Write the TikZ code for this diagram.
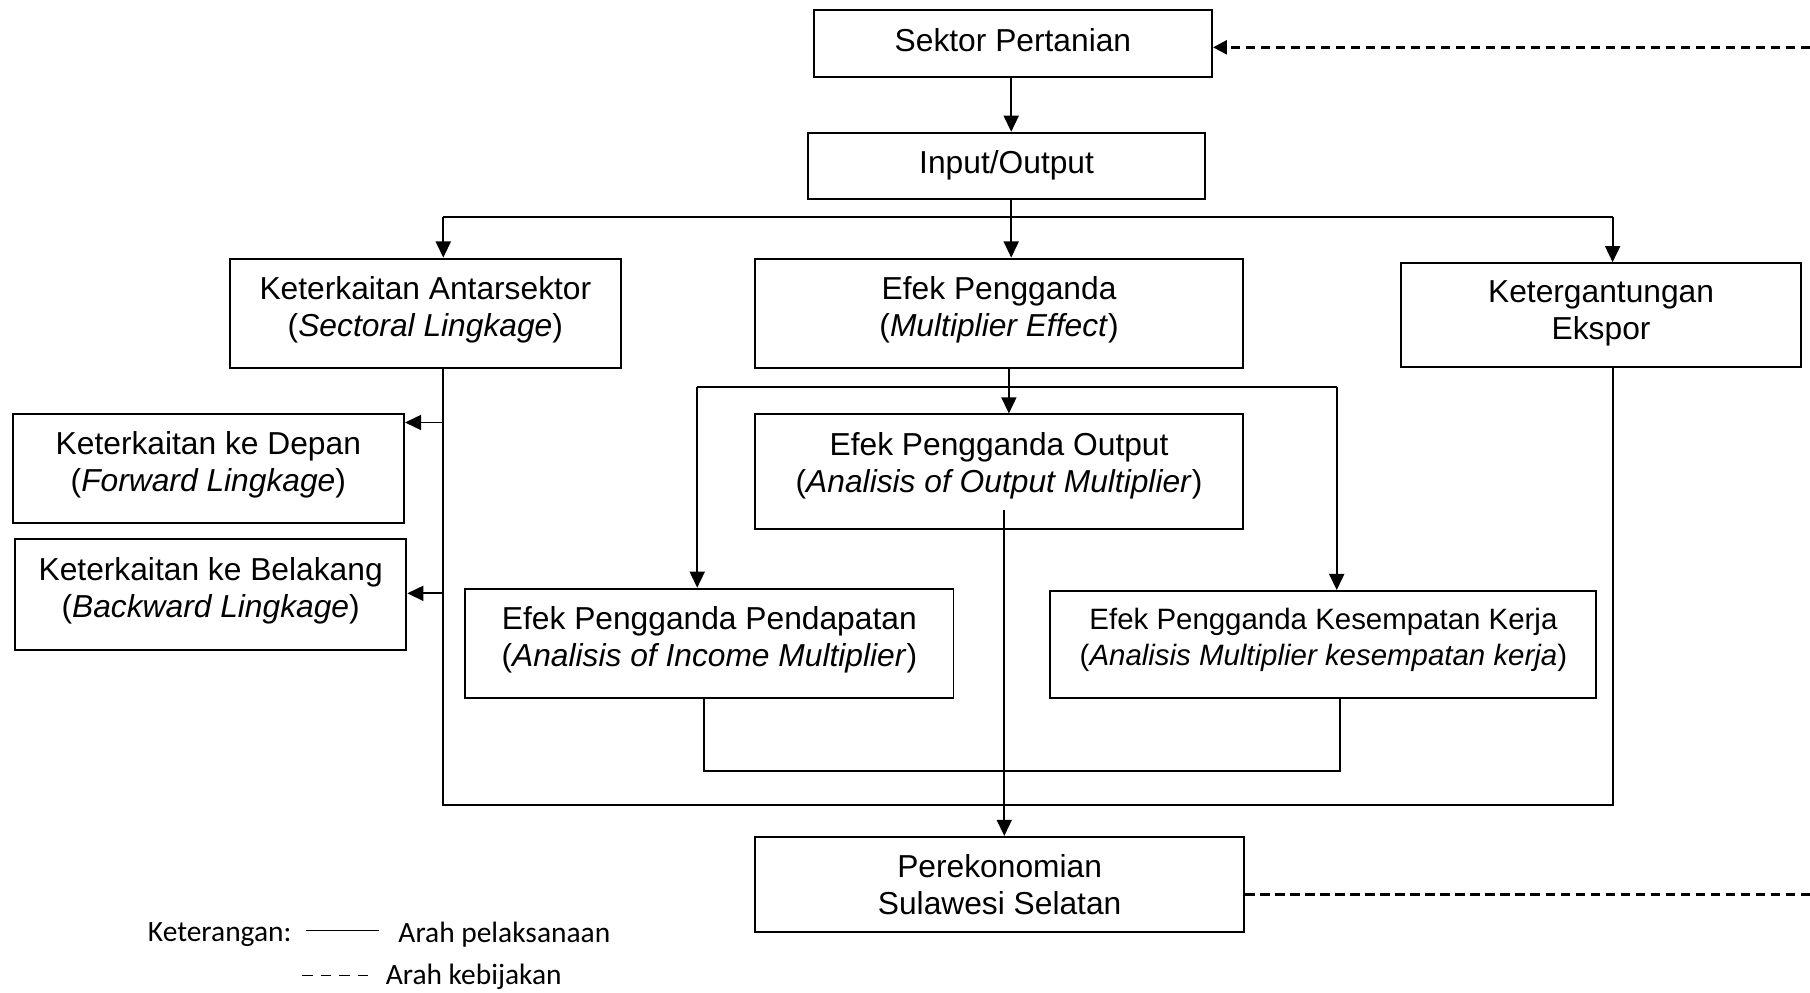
\documentclass[tikz,border=0pt]{standalone}
\usepackage{fontspec}
\setmainfont{Liberation Sans}
\newfontfamily\legendfont{Carlito}
\usetikzlibrary{arrows.meta}
\begin{document}
\begin{tikzpicture}[x=1pt,y=-1pt,
  box/.style={draw, line width=1.7pt, align=center, inner sep=0pt,
    font=\fontsize{27.5}{32}\selectfont},
  conn/.style={line width=1.7pt},
  arr/.style={conn, -{Triangle[length=14pt,width=13pt]}},
  dsh/.style={line width=2.4pt, dash pattern=on 8pt off 5pt}]
\path[use as bounding box] (0,0) rectangle (1568,860);

% boxes
\node[box, minimum width=345pt, minimum height=58pt, text depth=7pt] (sektor) at (877.5,38) {Sektor Pertanian};
\node[box, minimum width=344pt, minimum height=57pt, text depth=7pt] (io) at (872,143.5) {Input/Output};
\node[box, minimum width=339pt, minimum height=95pt, text depth=12pt] (ka) at (368.5,271.5) {Keterkaitan Antarsektor\\(\textit{Sectoral Lingkage})};
\node[box, minimum width=423pt, minimum height=95pt, text depth=12pt] (ep) at (865.5,271.5) {Efek Pengganda\\(\textit{Multiplier Effect})};
\node[box, minimum width=346pt, minimum height=90pt, text depth=8pt] (keg) at (1387,273) {Ketergantungan\\Ekspor};
\node[box, minimum width=339pt, minimum height=94pt, text depth=12pt] (kd) at (180.5,406) {Keterkaitan ke Depan\\(\textit{Forward Lingkage})};
\node[box, minimum width=339pt, minimum height=96pt, text depth=12pt] (kb) at (182.5,515) {Keterkaitan ke Belakang\\(\textit{Backward Lingkage})};
\node[box, minimum width=423pt, minimum height=99pt, text depth=15pt] (epo) at (865.5,408.5) {Efek Pengganda Output\\(\textit{Analisis of Output Multiplier})};
\node[box, minimum width=423pt, minimum height=95pt, text depth=13pt] (epp) at (614.5,557.5) {Efek Pengganda Pendapatan\\(\textit{Analisis of Income Multiplier})};
\node[box, minimum width=473pt, minimum height=93pt, text depth=13pt, font=\fontsize{25.5}{31}\selectfont] (epk) at (1146.5,558.5) {Efek Pengganda Kesempatan Kerja\\(\textit{Analisis Multiplier kesempatan kerja})};
\node[box, minimum width=424pt, minimum height=82pt] (per) at (866,766) {Perekonomian\\Sulawesi Selatan};

% coordinates
\coordinate (top) at (876,188);
\coordinate (kax) at (384,0);
\coordinate (kegx) at (1397,0);
\coordinate (bot) at (0,697);
\coordinate (kdy) at (0,366);
\coordinate (kby) at (0,514);
\coordinate (epx) at (874,0);
\coordinate (m1) at (604,335);
\coordinate (m2) at (1158,335);
\coordinate (n1) at (610,668);
\coordinate (n2) at (1161,668);
\coordinate (o1) at (870,442);
\coordinate (rt) at (1568,41);
\coordinate (rb) at (1568,775);

% connectors
\draw[arr] (sektor.south -| top) -- (io.north -| top);
\draw[arr] (io.south -| top) -- (ep.north -| top);
\draw[conn] (top -| kax) -- (top -| kegx);
\draw[arr] (top -| kax) -- (ka.north -| kax);
\draw[arr] (top -| kegx) -- (keg.north -| kegx);

\draw[conn] (ka.south -| kax) -- (bot -| kax) -- (bot -| kegx) -- (keg.south -| kegx);
\draw[arr] (kdy -| kax) -- (kdy -| kd.east);
\draw[arr] (kby -| kax) -- (kby -| kb.east);

\draw[arr] (ep.south -| epx) -- (epo.north -| epx);
\draw[conn] (m1) -- (m2);
\draw[arr] (m1) -- (epp.north -| m1);
\draw[arr] (m2) -- (epk.north -| m2);
\draw[conn] (epp.south -| n1) -- (n1) -- (n2) -- (epk.south -| n2);
\draw[arr] (o1) -- (per.north -| o1);

\draw[dsh, -{Triangle[length=12pt,width=12pt]}] (rt) -- (rt -| sektor.east);
\draw[dsh] (per.east |- rb) -- (rb);

% legend
\node[anchor=west, inner sep=0pt, font=\legendfont\fontsize{25.5}{30}\selectfont] (ket) at (128,810) {Keterangan:};
\coordinate (l1) at (265,806);
\coordinate (l2) at (328,806);
\draw[line width=1.3pt] (l1) -- (l2);
\node[anchor=west, inner sep=0pt, font=\legendfont\fontsize{25.5}{30}\selectfont] (ap) at (345,810) {Arah pelaksanaan};
\coordinate (d1) at (262,845);
\coordinate (d2) at (322,845);
\draw[line width=1.6pt, dash pattern=on 9pt off 7pt] (d1) -- (d2);
\node[anchor=west, inner sep=0pt, font=\legendfont\fontsize{25.5}{30}\selectfont] (ak) at (334,846) {Arah kebijakan};
\end{tikzpicture}
\end{document}
